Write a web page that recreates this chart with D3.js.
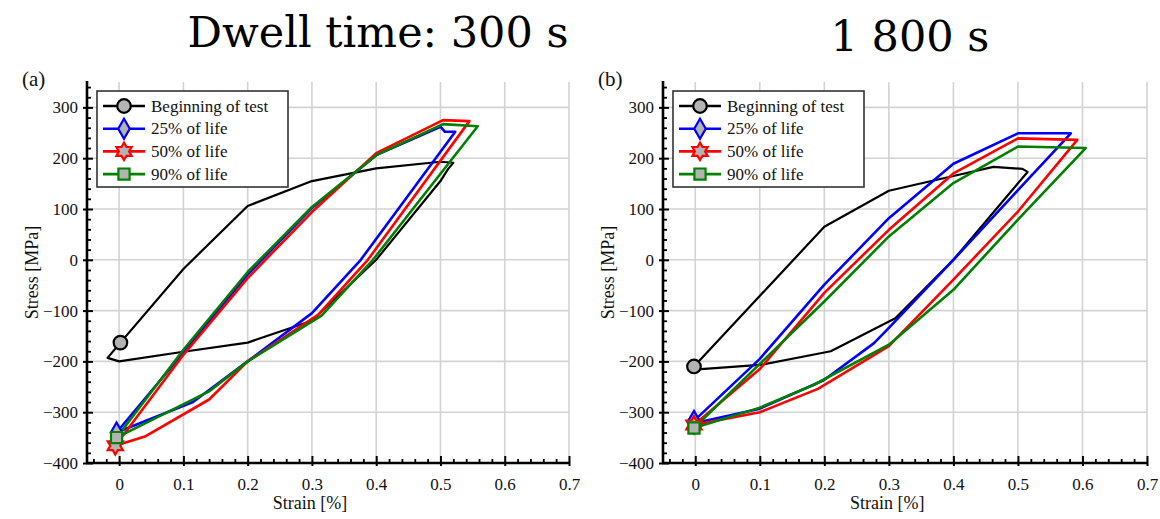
<!DOCTYPE html>
<html>
<head>
<meta charset="utf-8">
<script src="https://cdn.jsdelivr.net/npm/d3@7"></script>
<style>
  body { margin: 0; background: #fff; }
  svg { display: block; }
  svg text { font-family: "Liberation Serif", "Times New Roman", "DejaVu Serif", serif; }
  svg text.title { font-family: "DejaVu Serif", "Liberation Serif", serif; }
</style>
</head>
<body>
<svg id="chart" width="1160" height="519"></svg>
<script>
// series: [strain %, stress MPa]
const begin300 = [[0.002,-163],[0.1,-18],[0.2,106],[0.3,155],[0.4,180],[0.5,193],[0.52,191],[0.512,179],[0.5,155],[0.4,0],[0.3,-120],[0.2,-163],[0.1,-181],[0,-200],[-0.018,-193],[0.002,-163]]
const life25_300 = [[-0.004,-340],[0.1,-183],[0.2,-29],[0.3,102],[0.4,206],[0.5,262],[0.507,252],[0.523,252],[0.376,0],[0.3,-105],[0.2,-200],[0.115,-280],[-0.004,-340]]
const life50_300 = [[-0.006,-366],[0.1,-187],[0.2,-36],[0.3,94],[0.4,210],[0.504,275],[0.545,273],[0.387,0],[0.31,-108],[0.2,-200],[0.14,-275],[0.04,-348],[-0.006,-366]]
const life90_300 = [[-0.004,-350],[0.1,-177],[0.2,-24],[0.3,104],[0.4,206],[0.504,267],[0.558,263],[0.395,0],[0.315,-110],[0.2,-200],[0.14,-259],[-0.004,-350]]

const begin1800 = [[-0.002,-210],[0.2,65],[0.3,136],[0.4,165],[0.462,183],[0.507,179],[0.515,173],[0.507,161],[0.4,0],[0.31,-115],[0.21,-180],[0.1,-207],[-0.002,-216]]
const life25_1800 = [[-0.002,-317],[0.1,-195],[0.2,-49],[0.3,82],[0.4,189],[0.5,249],[0.582,249],[0.5,137],[0.4,0],[0.3,-134],[0.277,-164],[0.199,-237],[0.1,-293],[-0.002,-322]]
const life50_1800 = [[-0.002,-325],[0.1,-215],[0.2,-65],[0.3,59],[0.4,170],[0.5,239],[0.592,236],[0.5,95],[0.4,-39],[0.3,-170],[0.19,-254],[0.1,-300],[-0.002,-325]]
const life90_1800 = [[-0.002,-331],[0.1,-205],[0.2,-82],[0.3,46],[0.4,151],[0.5,223],[0.605,220],[0.5,79],[0.4,-59],[0.3,-167],[0.184,-246],[0.1,-291],[-0.002,-331]]

const seriesNames = ["Beginning of test", "25% of life", "50% of life", "90% of life"]
const seriesColors = ["#000000", "#0000ff", "#ff0000", "#008000"]
const seriesMarkers = ["circle", "diamond", "hexagram", "square"]

const xTicks = [0, 0.1, 0.2, 0.3, 0.4, 0.5, 0.6, 0.7]
const yTicks = [-400, -300, -200, -100, 0, 100, 200, 300]
const titles = ["Dwell time: 300 s", "1 800 s"]
const panelLabels = ["(a)", "(b)"]

const panels = [
    { series: [begin300, life25_300, life50_300, life90_300], left: 87, right: 569, label: panelLabels[0] },
    { series: [begin1800, life25_1800, life50_1800, life90_1800], left: 663, right: 1147, label: panelLabels[1] }
]

const svg = d3.select("#chart")
const plotTop = 82, plotBottom = 463

// hexagram = two overlapping triangles
const hexagram = {
    draw(ctx, size) {
        const r = Math.sqrt(size) * 0.62
        const ri = r / Math.sqrt(3)
        for (let i = 0; i < 12; i++) {
            const a = -Math.PI / 2 + i * Math.PI / 6
            const rr = i % 2 === 0 ? r : ri
            const px = rr * Math.cos(a), py = rr * Math.sin(a)
            if (i === 0) ctx.moveTo(px, py); else ctx.lineTo(px, py)
        }
        ctx.closePath()
    }
}
const symbolFor = {
    circle: d3.symbol(d3.symbolCircle, 145),
    diamond: d3.symbol(d3.symbolDiamond, 115),
    hexagram: d3.symbol(hexagram, 200),
    square: d3.symbol(d3.symbolSquare, 125)
}

function drawMarker(g, i, x, y) {
    g.append("path")
        .attr("d", symbolFor[seriesMarkers[i]]())
        .attr("transform", `translate(${x},${y})`)
        .attr("fill", "#b3b3b3")
        .attr("stroke", seriesColors[i])
        .attr("stroke-width", 2.2)
}

panels.forEach((p, pi) => {
    const x = d3.scaleLinear().domain([-0.05, 0.7]).range([p.left, p.right])
    const y = d3.scaleLinear().domain([-400, 350]).range([plotBottom, plotTop])
    const g = svg.append("g")

    // grid
    g.append("g").selectAll("line").data(xTicks).join("line")
        .attr("x1", d => x(d)).attr("x2", d => x(d))
        .attr("y1", plotTop).attr("y2", plotBottom)
        .attr("stroke", "#d3d3d3").attr("stroke-width", 1.6)
    g.append("g").selectAll("line").data(yTicks.slice(1)).join("line")
        .attr("x1", p.left).attr("x2", p.right)
        .attr("y1", d => y(d)).attr("y2", d => y(d))
        .attr("stroke", "#d3d3d3").attr("stroke-width", 1.6)

    // minor ticks
    const xMinor = d3.range(-0.04, 0.701, 0.02).filter(v => Math.abs(Math.round(v * 10) - v * 10) > 1e-6)
    const yMinor = d3.range(-380, 350, 20).filter(v => v % 100 !== 0)
    g.append("g").attr("transform", `translate(0,${plotBottom})`)
        .call(d3.axisBottom(x).tickValues(xMinor).tickSize(-4).tickFormat(""))
        .call(a => a.select(".domain").remove())
        .selectAll("line").attr("stroke-width", 1.8)
    g.append("g").attr("transform", `translate(${p.left},0)`)
        .call(d3.axisLeft(y).tickValues(yMinor).tickSize(-4).tickFormat(""))
        .call(a => a.select(".domain").remove())
        .selectAll("line").attr("stroke-width", 1.8)

    // major axes
    const xAxis = g.append("g").attr("transform", `translate(0,${plotBottom})`)
        .call(d3.axisBottom(x).tickValues(xTicks).tickSizeInner(-7).tickSizeOuter(0).tickPadding(15).tickFormat(d3.format("~g")))
    const yAxis = g.append("g").attr("transform", `translate(${p.left},0)`)
        .call(d3.axisLeft(y).tickValues(yTicks).tickSizeInner(4).tickSizeOuter(0).tickPadding(5).tickFormat(d3.format("d")))
    yAxis.selectAll(".tick line").attr("x1", 6)
    xAxis.selectAll(".tick line").attr("y1", 3)
    ;[xAxis, yAxis].forEach(a => {
        a.attr("font-family", null)
        a.select(".domain").attr("stroke-width", 2.6)
        a.selectAll(".tick line").attr("stroke-width", 2)
        a.selectAll("text").attr("font-size", 17).attr("fill", "#111")
    })
    yAxis.select(".domain").attr("d", `M0,${plotBottom + 1}V${plotTop - 1}`)
    xAxis.select(".domain").attr("d", `M${p.left - 1},0H${p.right}`)

    // curves
    const line = d3.line().x(d => x(d[0])).y(d => y(d[1]))
    p.series.forEach((s, si) => {
        g.append("path").datum(s)
            .attr("d", line)
            .attr("fill", "none")
            .attr("stroke", seriesColors[si])
            .attr("stroke-width", si === 0 ? 2.2 : 2.6)
            .attr("stroke-linejoin", "round")
    })
    p.series.forEach((s, si) => drawMarker(g, si, x(s[0][0]), y(s[0][1])))

    // legend
    const lx = p.left + 10, ly = plotTop + 9
    g.append("rect").attr("x", lx).attr("y", ly).attr("width", 191).attr("height", 96)
        .attr("fill", "#fff").attr("stroke", "#333").attr("stroke-width", 1.6)
    seriesNames.forEach((name, i) => {
        const cy = ly + 15 + i * 22.7
        g.append("line").attr("x1", lx + 6).attr("x2", lx + 48).attr("y1", cy).attr("y2", cy)
            .attr("stroke", seriesColors[i]).attr("stroke-width", 2.6)
        drawMarker(g, i, lx + 27, cy)
        g.append("text").attr("x", lx + 54).attr("y", cy + 5.5)
            .attr("font-size", 17).attr("fill", "#111").text(name)
    })

    // axis titles
    g.append("text").attr("x", (x(0) + x(0.7)) / 2 - 34).attr("y", 509)
        .attr("text-anchor", "middle").attr("font-size", 18).attr("fill", "#111")
        .text("Strain [%]")
    g.append("text").attr("transform", `translate(${p.left - 49},${(plotTop + plotBottom) / 2}) rotate(-90)`)
        .attr("text-anchor", "middle").attr("font-size", 18).attr("fill", "#111")
        .text("Stress [MPa]")
    g.append("text").attr("x", p.left - 65).attr("y", 86)
        .attr("font-size", 21).attr("fill", "#111")
        .text(p.label)
})

svg.append("text").attr("class", "title").attr("x", 378).attr("y", 47).attr("text-anchor", "middle")
    .attr("font-size", 43).attr("fill", "#000").text(titles[0])
svg.append("text").attr("class", "title").attr("x", 910).attr("y", 51).attr("text-anchor", "middle")
    .attr("font-size", 43).attr("fill", "#000").text(titles[1])
</script>
</body>
</html>
